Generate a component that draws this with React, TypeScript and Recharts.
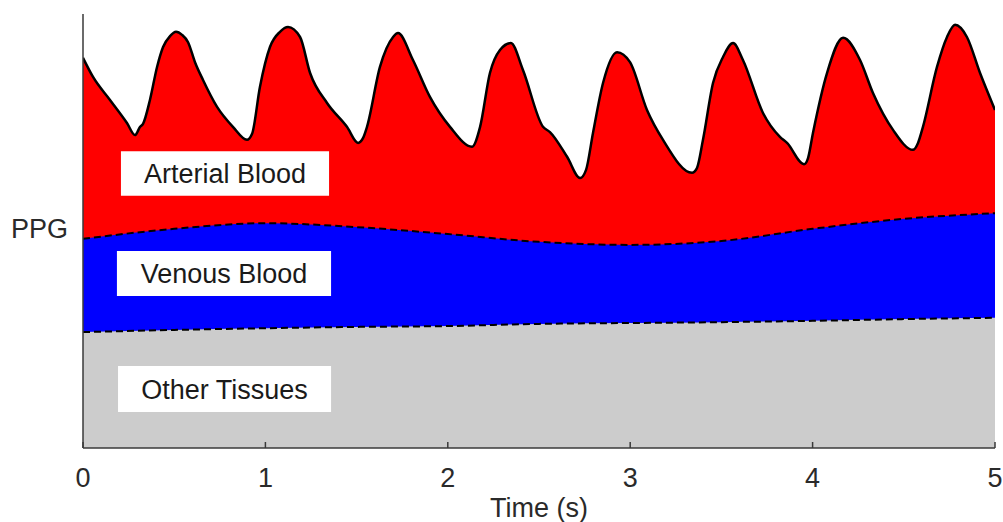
import React from 'react';
import { ComposedChart, Area, XAxis, YAxis, ReferenceArea, Label } from 'recharts';

// Time axis ticks (seconds)
const timeTicks = [0, 1, 2, 3, 4, 5];

// Total PPG signal (arterial + venous + tissue), arbitrary units
const ppgTime = [
  0, 0.055, 0.148, 0.241, 0.285, 0.313, 0.329, 0.367, 0.406, 0.439, 0.477, 0.51, 0.543, 0.576, 0.614,
  0.658, 0.735, 0.822, 0.899, 0.927, 0.97, 1.025, 1.08, 1.124, 1.19, 1.245, 1.338, 1.447, 1.508, 1.535,
  1.557, 1.628, 1.7, 1.727, 1.809, 1.902, 2.012, 2.133, 2.177, 2.231, 2.286, 2.346, 2.412, 2.522, 2.56,
  2.654, 2.725, 2.758, 2.796, 2.851, 2.928, 2.999, 3.092, 3.18, 3.339, 3.366, 3.399, 3.454, 3.509, 3.564,
  3.618, 3.728, 3.821, 3.86, 3.953, 3.975, 4.002, 4.079, 4.167, 4.26, 4.331, 4.441, 4.55, 4.578, 4.605,
  4.682, 4.737, 4.781, 4.846, 4.918, 5.0,
];
const ppgLevel = [
  89.9, 85.5, 80.2, 74.9, 72.1, 74.0, 74.7, 80.2, 87.8, 92.4, 94.9, 95.9, 95.2, 93.5, 88.9,
  84.8, 78.6, 74.0, 71.0, 72.4, 83.2, 92.4, 95.9, 97.0, 94.7, 86.4, 79.5, 74.0, 70.3, 71.4,
  74.0, 87.8, 94.7, 95.6, 89.4, 80.9, 74.0, 69.4, 74.0, 86.4, 91.7, 93.3, 87.1, 74.0, 72.8,
  67.1, 62.2, 64.1, 72.6, 84.1, 91.2, 88.9, 77.9, 71.0, 63.4, 64.5, 71.0, 84.1, 90.1, 93.3,
  89.4, 77.2, 71.7, 70.3, 65.4, 66.8, 72.6, 86.4, 94.5, 89.4, 81.8, 73.3, 68.7, 70.3, 74.0,
  87.8, 94.7, 97.5, 94.7, 86.4, 77.9,
];

// Slow baseline components
const baseTime = [0, 0.5, 1, 1.5, 2, 2.5, 3, 3.5, 4, 4.5, 5];
const venousLevel = [48.2, 50.5, 51.8, 50.9, 49.3, 47.5, 46.8, 47.7, 50.5, 52.8, 54.1];
const tissueLevel = [26.7, 27.2, 27.6, 27.9, 28.1, 28.6, 28.8, 29.0, 29.3, 29.7, 30.0];

const ppgData = ppgTime.map((t, i) => ({ t, level: ppgLevel[i] }));
const venousData = baseTime.map((t, i) => ({ t, level: venousLevel[i] }));
const tissueData = baseTime.map((t, i) => ({ t, level: tissueLevel[i] }));

const FONT = '"Liberation Sans", Arial, Helvetica, sans-serif';
const AXIS = '#3a3a3a';

// Component name boxes placed in data coordinates
const boxes = [
  { text: 'Arterial Blood', x1: 0.208, x2: 1.349, y1: 58.1, y2: 68.4 },
  { text: 'Venous Blood', x1: 0.186, x2: 1.36, y1: 35.0, y2: 45.4 },
  { text: 'Other Tissues', x1: 0.192, x2: 1.36, y1: 8.3, y2: 18.9 },
];

const TimeTick = (props: any) => {
  const { x, y, payload } = props;
  return (
    <g>
      <line x1={x} y1={y} x2={x} y2={y - 6} stroke={AXIS} strokeWidth={1.5} />
      <text x={x} y={y + 39} textAnchor="middle" fontFamily={FONT} fontSize={27} fill="#2a2a2a">
        {payload.value}
      </text>
    </g>
  );
};

export default function App() {
  return (
    <div style={{ position: 'fixed', left: 0, top: 0, background: '#fff' }}>
      <ComposedChart width={1003} height={522} margin={{ top: 14, right: 8, bottom: 0, left: 0 }}>
        <XAxis
          dataKey="t"
          type="number"
          domain={[0, 5]}
          ticks={timeTicks}
          height={74}
          tickSize={0}
          tickMargin={0}
          tickLine={false}
          tick={<TimeTick />}
          axisLine={{ stroke: AXIS, strokeWidth: 1.5 }}
          interval={0}
          allowDataOverflow
          label={{
            content: (p: any) => {
              const vb = p.viewBox;
              return (
                <text x={vb.x + vb.width / 2} y={vb.y + 69} textAnchor="middle" fontFamily={FONT} fontSize={27} fill="#2a2a2a">
                  Time (s)
                </text>
              );
            },
          }}
        />
        <YAxis
          type="number"
          domain={[0, 100]}
          width={83}
          tick={false}
          tickLine={false}
          axisLine={{ stroke: AXIS, strokeWidth: 1.5 }}
          allowDataOverflow
          label={{
            content: (p: any) => {
              const vb = p.viewBox;
              return (
                <text x={vb.x + vb.width - 15} y={vb.y + vb.height / 2 + 7} textAnchor="end" fontFamily={FONT} fontSize={27} fill="#2a2a2a">
                  PPG
                </text>
              );
            },
          }}
        />
        <Area
          data={ppgData}
          dataKey="level"
          type="monotone"
          fill="#ff0000"
          fillOpacity={1}
          stroke="#000"
          strokeWidth={2.5}
          dot={false}
          activeDot={false}
          isAnimationActive={false}
        />
        <Area
          data={venousData}
          dataKey="level"
          type="monotone"
          fill="#0000ff"
          fillOpacity={1}
          stroke="#000"
          strokeWidth={2}
          strokeDasharray="7 4"
          dot={false}
          activeDot={false}
          isAnimationActive={false}
        />
        <Area
          data={tissueData}
          dataKey="level"
          type="monotone"
          fill="#cccccc"
          fillOpacity={1}
          stroke="#000"
          strokeWidth={2}
          strokeDasharray="7 4"
          dot={false}
          activeDot={false}
          isAnimationActive={false}
        />
        {boxes.map((b) => (
          <ReferenceArea
            key={b.text}
            x1={b.x1}
            x2={b.x2}
            y1={b.y1}
            y2={b.y2}
            fill="#ffffff"
            fillOpacity={1}
            stroke="none"
          >
            <Label value={b.text} position="center" fontFamily={FONT} fontSize={27} fill="#1a1a1a" />
          </ReferenceArea>
        ))}
      </ComposedChart>
    </div>
  );
}
